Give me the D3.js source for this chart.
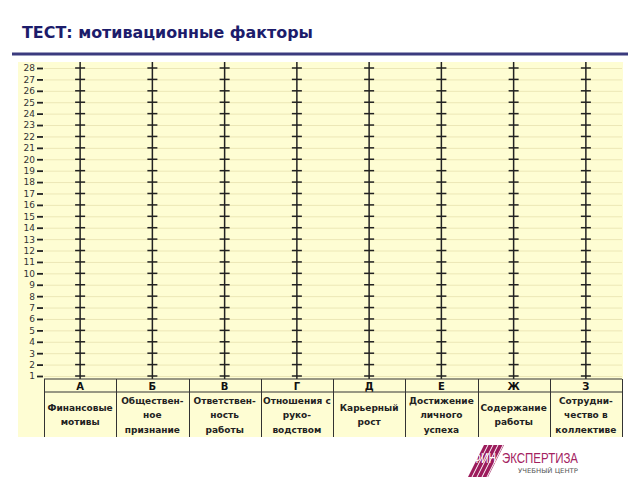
<!DOCTYPE html>
<html><head><meta charset="utf-8">
<script src="https://cdn.jsdelivr.net/npm/d3@7"></script>
<style>body{margin:0;background:#fff}svg{display:block}</style>
</head><body>
<svg id="c" width="640" height="480"></svg>
<script>
const title = "ТЕСТ: мотивационные факторы";
const levels = d3.range(1, 29);
const letters = ["А","Б","В","Г","Д","Е","Ж","З"];
const factorNames = [
  ["Финансовые","мотивы"],
  ["Обществен-","ное","признание"],
  ["Ответствен-","ность","работы"],
  ["Отношения с","руко-","водством"],
  ["Карьерный","рост"],
  ["Достижение","личного","успеха"],
  ["Содержание","работы"],
  ["Сотрудни-","чество в","коллективе"]
];
const logoMain = "ЭКСПЕРТИЗА", logoPre = "ФИН", logoSub = "УЧЕБНЫЙ ЦЕНТР";

const svg = d3.select("#c");
const font = "Tahoma, 'DejaVu Sans', sans-serif";

// title
svg.append("text").attr("x", 22).attr("y", 38).text(title)
  .attr("font-family", "'DejaVu Sans', Verdana, sans-serif").attr("font-weight", "bold")
  .attr("font-size", 16).attr("fill", "#1c1c6b")
  .attr("textLength", 291).attr("lengthAdjust", "spacingAndGlyphs");
svg.append("line").attr("x1", 12).attr("x2", 628).attr("y1", 54).attr("y2", 54)
  .attr("stroke", "#3b3a7e").attr("stroke-width", 3);

// yellow panel
const panel = {x0: 18, x1: 623, y0: 62, y1: 437};
svg.append("rect").attr("x", panel.x0).attr("y", panel.y0)
  .attr("width", panel.x1 - panel.x0).attr("height", panel.y1 - panel.y0).attr("fill", "#fefdd3");

const x = d3.scaleBand().domain(letters).range([44, 622]);
const y = d3.scaleLinear().domain([1, 28]).range([376, 68]);
const tableTop = 379, headerBottom = 392;

// gridlines
svg.append("g").selectAll("line").data(levels).join("line")
  .attr("x1", 44).attr("x2", 622).attr("y1", d => y(d) + 0.5).attr("y2", d => y(d) + 0.5)
  .attr("stroke", "#ece7b6").attr("stroke-width", 1);

// left axis
const ax = svg.append("g").attr("transform", "translate(43,0)")
  .call(d3.axisLeft(y).tickValues(levels).tickSize(6).tickPadding(2).tickFormat(d3.format("d")));
ax.select(".domain").remove();
ax.selectAll(".tick line").attr("stroke", "#222").attr("stroke-width", 1.8);
ax.selectAll(".tick text").attr("font-family", font).attr("font-size", 9).attr("fill", "#333");

// crosses
const cols = svg.append("g").selectAll("g").data(letters).join("g")
  .attr("transform", d => `translate(${x(d) + x.bandwidth() / 2},0)`);
cols.append("line").attr("x1", 0).attr("x2", 0).attr("y1", panel.y0).attr("y2", tableTop)
  .attr("stroke", "#222").attr("stroke-width", 1.5);
cols.selectAll(".t").data(levels).join("line").attr("class", "t")
  .attr("x1", -5).attr("x2", 5).attr("y1", d => y(d)).attr("y2", d => y(d))
  .attr("stroke", "#222").attr("stroke-width", 1.5);

// table
const tb = svg.append("g");
tb.append("line").attr("x1", 44).attr("x2", 622).attr("y1", tableTop).attr("y2", tableTop).attr("stroke", "#333");
tb.append("line").attr("x1", 44).attr("x2", 622).attr("y1", headerBottom).attr("y2", headerBottom).attr("stroke", "#333");
const bounds = letters.map(d => x(d)).concat([x.range()[1]]);
tb.selectAll(".v").data(bounds).join("line").attr("class", "v")
  .attr("x1", d => Math.round(d) + 0.5).attr("x2", d => Math.round(d) + 0.5)
  .attr("y1", tableTop).attr("y2", panel.y1).attr("stroke", "#333");
tb.selectAll(".l").data(letters).join("text").attr("class", "l")
  .attr("x", d => x(d) + x.bandwidth() / 2).attr("y", 390).attr("text-anchor", "middle")
  .attr("font-family", font).attr("font-weight", "bold").attr("font-size", 10).attr("fill", "#111").text(d => d);
const names = tb.selectAll(".n").data(letters).join("text").attr("class", "n")
  .attr("text-anchor", "middle").attr("font-family", font).attr("font-weight", "bold")
  .attr("font-size", 9).attr("fill", "#222");
names.each(function(d, i) {
  const lines = factorNames[i];
  const cy = 414.5, lh = 14.5;
  const start = cy - (lines.length - 1) * lh / 2 + 3.5;
  d3.select(this).selectAll("tspan").data(lines).join("tspan")
    .attr("x", x(d) + x.bandwidth() / 2).attr("y", (t, j) => start + j * lh).text(t => t);
});

// logo
const logo = svg.append("g");
logo.append("path").attr("d", "M468,477 L484,445 L504,445 L488,477 Z").attr("fill", "#9c1c5c");
for (let k = 0; k < 4; k++) {
  logo.append("line").attr("x1", 472 + k * 5).attr("y1", 477).attr("x2", 488 + k * 5).attr("y2", 445)
    .attr("stroke", "#fff").attr("stroke-width", 1);
}
logo.append("text").attr("x", 473).attr("y", 463).text(logoPre)
  .attr("font-family", "'Liberation Sans Narrow', Arial, sans-serif").attr("font-size", 14).attr("fill", "#fff")
  .attr("textLength", 23).attr("lengthAdjust", "spacingAndGlyphs");
logo.append("text").attr("x", 502).attr("y", 463).text(logoMain)
  .attr("font-family", "'Liberation Sans Narrow', Arial, sans-serif").attr("font-size", 14).attr("fill", "#a3225f")
  .attr("textLength", 76).attr("lengthAdjust", "spacingAndGlyphs");
logo.append("text").attr("x", 518).attr("y", 473).text(logoSub)
  .attr("font-family", "'DejaVu Sans', sans-serif").attr("font-size", 6.5).attr("fill", "#555")
  .attr("textLength", 60).attr("lengthAdjust", "spacingAndGlyphs");
</script>
</body></html>
